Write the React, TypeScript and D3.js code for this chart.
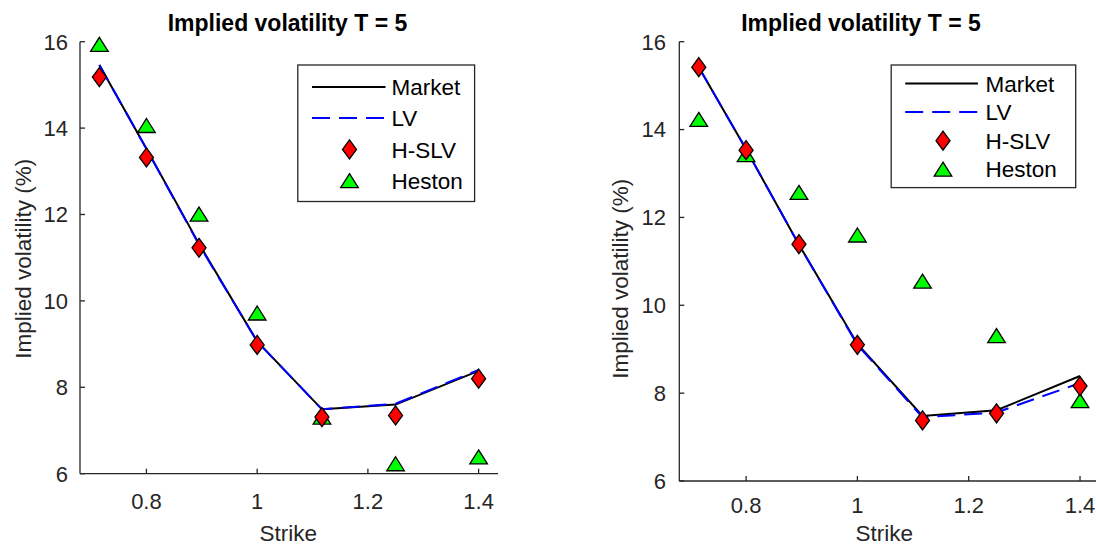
import React from "react";
import * as d3 from "d3";

// ---------- data ----------
const strikes = [0.715, 0.8, 0.895, 1.0, 1.117, 1.25, 1.4];

const leftMarket = [15.46, 13.52, 11.32, 9.06, 7.49, 7.6, 8.38];
const leftLV = [15.46, 13.52, 11.3, 9.06, 7.49, 7.62, 8.4];
const leftHSLV = [15.18, 13.32, 11.23, 8.98, 7.31, 7.35, 8.2];
const leftHeston = [15.94, 14.06, 12.01, 9.72, 7.31, 6.23, 6.39];

const rightMarket = [15.42, 13.55, 11.38, 9.12, 7.48, 7.61, 8.39];
const rightLV = [15.42, 13.55, 11.38, 9.1, 7.45, 7.56, 8.23];
const rightHSLV = [15.42, 13.53, 11.39, 9.1, 7.38, 7.54, 8.16];
const rightHeston = [14.23, 13.43, 12.57, 11.6, 10.55, 9.31, 7.83];

const xTicks = [0.8, 1.0, 1.2, 1.4];
const xTickLabels = ["0.8", "1", "1.2", "1.4"];
const yTicks = [6, 8, 10, 12, 14, 16];
const yTickLabels = ["6", "8", "10", "12", "14", "16"];
const xDomain = [0.68, 1.435];
const yDomain = [6, 16];

const legendLabels = ["Market", "LV", "H-SLV", "Heston"];
const titleText = "Implied volatility T = 5";
const xLabelText = "Strike";
const yLabelText = "Implied volatility (%)";

// ---------- layout ----------
const FONT = "'Liberation Sans', Arial, Helvetica, sans-serif";
const AXIS = "#262626";
const DASH = "18,9";

const panels = [
  {
    key: "left",
    market: leftMarket,
    lv: leftLV,
    hslv: leftHSLV,
    heston: leftHeston,
    x0: 80, x1: 498, yTop: 41.7, yBot: 473.7,
    titleX: 287.5, titleY: 31,
    ylabX: 23.6, ylabY: 258.8,
    xlabX: 288.3, xlabY: 541,
    xtickY: 509, ytickX: 68,
    legend: { x: 297.8, y: 65, w: 176.8, h: 136.5, rows: [86.9, 118.1, 149.4, 180.6], lx0: 312, lx1: 385.5, mx: 349.5, tx: 391.4 },
  },
  {
    key: "right",
    market: rightMarket,
    lv: rightLV,
    hslv: rightHSLV,
    heston: rightHeston,
    x0: 679.3, x1: 1099.5, yTop: 41.7, yBot: 481,
    titleX: 861, titleY: 31,
    ylabX: 620.5, ylabY: 278.8,
    xlabX: 884.2, xlabY: 541,
    xtickY: 512.5, ytickX: 666,
    legend: { x: 891.2, y: 65, w: 184.5, h: 122.6, rows: [83.4, 111.9, 140.7, 169.2], lx0: 905.2, lx1: 977.9, mx: 943, tx: 985.6 },
  },
];

const diamondPath = (cx: number, cy: number) => {
  const hw = 7, hh = 9.5;
  return `M${cx},${cy - hh}L${cx + hw},${cy}L${cx},${cy + hh}L${cx - hw},${cy}Z`;
};
const trianglePath = (cx: number, cy: number) => {
  const hw = 8.8, hh = 7;
  return `M${cx},${cy - hh}L${cx + hw},${cy + hh}L${cx - hw},${cy + hh}Z`;
};

function Panel({ p }: { p: any }) {
  const x = d3.scaleLinear().domain(xDomain).range([p.x0, p.x1]);
  const y = d3.scaleLinear().domain(yDomain).range([p.yBot, p.yTop]);
  const line = d3
    .line<number>()
    .x((_, i) => x(strikes[i]))
    .y((v) => y(v));
  const L = p.legend;
  return (
    <g>
      {/* axes */}
      <line x1={p.x0} x2={p.x1} y1={p.yBot} y2={p.yBot} stroke={AXIS} strokeWidth={1.3} />
      <line x1={p.x0} x2={p.x0} y1={p.yBot} y2={p.yTop} stroke={AXIS} strokeWidth={1.3} />
      {xTicks.map((t, i) => (
        <g key={"xt" + i}>
          <line x1={x(t)} x2={x(t)} y1={p.yBot} y2={p.yBot - 5} stroke={AXIS} strokeWidth={1.3} />
          <text x={x(t)} y={p.xtickY} textAnchor="middle" fontSize={22} fill={AXIS} fontFamily={FONT}>
            {xTickLabels[i]}
          </text>
        </g>
      ))}
      {yTicks.map((t, i) => (
        <g key={"yt" + i}>
          <line x1={p.x0} x2={p.x0 + 5} y1={y(t)} y2={y(t)} stroke={AXIS} strokeWidth={1.3} />
          <text x={p.ytickX} y={y(t)} dy="0.36em" textAnchor="end" fontSize={22} fill={AXIS} fontFamily={FONT}>
            {yTickLabels[i]}
          </text>
        </g>
      ))}
      <text x={p.titleX} y={p.titleY} textAnchor="middle" fontSize={23} fontWeight="bold" fill="#000" fontFamily={FONT}>
        {titleText}
      </text>
      <text x={p.xlabX} y={p.xlabY} textAnchor="middle" fontSize={22.5} fill={AXIS} fontFamily={FONT}>
        {xLabelText}
      </text>
      <text
        transform={`translate(${p.ylabX},${p.ylabY}) rotate(-90)`}
        dy="0.35em"
        textAnchor="middle"
        fontSize={22.5}
        fill={AXIS}
        fontFamily={FONT}
      >
        {yLabelText}
      </text>

      {/* series */}
      <path d={line(p.market) || ""} fill="none" stroke="#000" strokeWidth={2} />
      <path d={line(p.lv) || ""} fill="none" stroke="#0000ff" strokeWidth={2} strokeDasharray={DASH} />
      {p.heston.map((v: number, i: number) => (
        <path key={"h" + i} d={trianglePath(x(strikes[i]), y(v))} fill="#00ff00" stroke="#000" strokeWidth={1.3} />
      ))}
      {p.hslv.map((v: number, i: number) => (
        <path key={"s" + i} d={diamondPath(x(strikes[i]), y(v))} fill="#ff0000" stroke="#000" strokeWidth={1.3} />
      ))}

      {/* legend */}
      <rect x={L.x} y={L.y} width={L.w} height={L.h} fill="#fff" stroke={AXIS} strokeWidth={1.3} />
      <line x1={L.lx0} x2={L.lx1} y1={L.rows[0]} y2={L.rows[0]} stroke="#000" strokeWidth={2} />
      <line x1={L.lx0} x2={L.lx1} y1={L.rows[1]} y2={L.rows[1]} stroke="#0000ff" strokeWidth={2} strokeDasharray={DASH} />
      <path d={diamondPath(L.mx, L.rows[2])} fill="#ff0000" stroke="#000" strokeWidth={1.3} />
      <path d={trianglePath(L.mx, L.rows[3])} fill="#00ff00" stroke="#000" strokeWidth={1.3} />
      {legendLabels.map((lab, i) => (
        <text key={"lg" + i} x={L.tx} y={L.rows[i]} dy="0.36em" fontSize={22.5} fill="#000" fontFamily={FONT}>
          {lab}
        </text>
      ))}
    </g>
  );
}

export default function App() {
  return (
    <svg
      width={1096}
      height={545}
      style={{ position: "absolute", left: 0, top: 0, background: "#fff", display: "block" }}
    >
      <rect x={0} y={0} width={1096} height={545} fill="#fff" />
      {panels.map((p) => (
        <Panel key={p.key} p={p} />
      ))}
    </svg>
  );
}
